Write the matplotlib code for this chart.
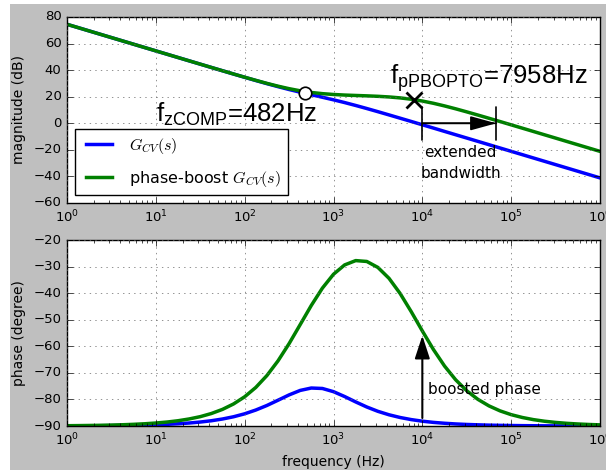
import matplotlib
matplotlib.use('Agg')
import matplotlib.pyplot as plt
from matplotlib.patches import Rectangle

plt.style.use('classic')
matplotlib.rc('xtick', labelsize=9.5)
matplotlib.rc('ytick', labelsize=9.5)
plt.rcParams['mathtext.fontset'] = 'cm'
plt.rcParams['mathtext.rm'] = 'Liberation Sans'

# frequency points (Hz), 1/8 decade apart
freq = [1, 1.334, 1.778, 2.371, 3.162, 4.217, 5.623, 7.499,
        10, 13.34, 17.78, 23.71, 31.62, 42.17, 56.23, 74.99,
        100, 133.4, 177.8, 237.1, 316.2, 421.7, 562.3, 749.9,
        1000, 1334, 1778, 2371, 3162, 4217, 5623, 7499,
        10000, 13340, 17780, 23710, 31620, 42170, 56230, 74990,
        100000, 133400, 177800, 237100, 316200, 421700, 562300, 749900,
        1000000]

# magnitude (dB)
mag_cv = [74.5, 72.0, 69.5, 67.0, 64.5, 62.0, 59.5, 57.0,
          54.5, 52.0, 49.5, 47.0, 44.51, 42.02, 39.54, 37.07,
          34.62, 32.20, 29.84, 27.58, 25.42, 23.40, 21.49, 19.60,
          17.66, 15.60, 13.41, 11.11, 8.73, 6.30, 3.84, 1.37,
          -1.12, -3.60, -6.11, -8.61, -11.10, -13.60, -16.10, -18.60,
          -21.10, -23.60, -26.10, -28.60, -31.10, -33.60, -36.10, -38.60,
          -41.10]
mag_pb = [74.5, 72.0, 69.5, 67.0, 64.5, 62.0, 59.5, 57.0,
          54.5, 52.0, 49.51, 47.01, 44.52, 42.03, 39.56, 37.10,
          34.68, 32.32, 30.05, 27.94, 26.05, 24.46, 23.21, 22.30,
          21.68, 21.25, 20.94, 20.65, 20.30, 19.82, 19.11, 18.10,
          16.74, 15.05, 13.07, 10.90, 8.59, 6.21, 3.77, 1.31,
          -1.17, -3.66, -6.15, -8.65, -11.14, -13.65, -16.14, -18.64,
          -21.14]

# phase (degree)
ph_cv = [-89.95, -89.94, -89.92, -89.89, -89.85, -89.80, -89.73, -89.65,
         -89.53, -89.37, -89.16, -88.88, -88.51, -88.02, -87.37, -86.52,
         -85.41, -83.99, -82.28, -80.31, -78.30, -76.61, -75.71, -75.88,
         -77.08, -78.91, -80.94, -82.85, -84.48, -85.78, -86.80, -87.59,
         -88.19, -88.64, -88.97, -89.23, -89.42, -89.56, -89.68, -89.76,
         -89.82, -89.87, -89.90, -89.93, -89.95, -89.96, -89.97, -89.98,
         -89.98]
ph_pb = [-89.89, -89.85, -89.80, -89.74, -89.65, -89.53, -89.37, -89.16,
         -88.88, -88.51, -88.02, -87.35, -86.48, -85.30, -83.75, -81.70,
         -79.00, -75.49, -71.03, -65.51, -59.01, -51.84, -44.64, -38.11,
         -32.89, -29.38, -27.75, -28.08, -30.33, -34.43, -40.13, -46.97,
         -54.23, -61.23, -67.43, -72.60, -76.74, -79.96, -82.43, -84.31,
         -85.73, -86.79, -87.60, -88.20, -88.65, -88.99, -89.24, -89.43,
         -89.57]

f_zcomp = 482
mag_zcomp = 22.5
f_pbopto = 7958
mag_pbopto = 17.5
bw_start = 1e4
bw_end = 6.8e4
boost_f = 1e4
boost_from = -87
boost_to = -56

fig = plt.figure(figsize=(6.06, 4.70), dpi=100, facecolor='white')
fig.patches.append(Rectangle((10/606., 0), 1, 1 - 4/470., transform=fig.transFigure,
                             facecolor='#bfbfbf', edgecolor='none', zorder=-10))

ax1 = fig.add_axes([67/606., 1 - 203/470., 533/606., 186/470.])
ax2 = fig.add_axes([67/606., 1 - 426/470., 533/606., 186/470.])

# magnitude
ax1.semilogx(freq, mag_cv, 'b', lw=2.5, label=r'$G_{CV}(s)$')
ax1.semilogx(freq, mag_pb, 'g', lw=2.5, label=r'phase-boost $G_{CV}(s)$')
ax1.plot(f_zcomp, mag_zcomp, 'o', ms=9, mfc='white', mec='k', mew=1.2, zorder=5)
ax1.plot(f_pbopto, mag_pbopto, 'x', ms=12, mew=2, color='k', zorder=5)
ax1.text(10, 1, r'f$_{\mathrm{zCOMP}}$=482Hz', fontsize=18.5,
         family='Liberation Sans', math_fontfamily='custom')
ax1.text(4300, 30, r'f$_{\mathrm{pPBOPTO}}$=7958Hz', fontsize=18.5,
         family='Liberation Sans', math_fontfamily='custom')
ax1.annotate('', xy=(bw_end, 0), xytext=(bw_start, 0),
             arrowprops=dict(arrowstyle='-|>,head_length=0.8,head_width=0.22',
                             mutation_scale=20, color='k', lw=1.2,
                             shrinkA=0, shrinkB=0))
ax1.annotate('', xy=(bw_end, 0), xytext=(bw_start, 0),
             arrowprops=dict(arrowstyle='|-|,widthA=0.6,widthB=0.6',
                             mutation_scale=20, color='k', lw=1.2,
                             shrinkA=0, shrinkB=0))
ax1.text(26900, -16.5, 'extended\nbandwidth', fontsize=11, ha='center', va='top',
         multialignment='center', linespacing=1.45)
ax1.set_xlim(1, 1e6)
ax1.set_ylim(-60, 80)
ax1.set_yticks(range(-60, 81, 20))
ax1.grid(True, color='0.4', linestyle=':')
ax1.set_ylabel('magnitude (dB)', fontsize=10)
ax1.legend(loc='lower left', fontsize=11.5, handlelength=2.2, labelspacing=0.8)

# phase
ax2.semilogx(freq, ph_cv, 'b', lw=2.5)
ax2.semilogx(freq, ph_pb, 'g', lw=2.5)
ax2.annotate('', xy=(boost_f, boost_to), xytext=(boost_f, boost_from),
             arrowprops=dict(arrowstyle='-|>,head_length=0.7,head_width=0.23',
                             mutation_scale=20, color='k', lw=1.5,
                             shrinkA=0, shrinkB=0))
ax2.text(11500, -78, 'boosted phase', fontsize=11)
ax2.set_xlim(1, 1e6)
ax2.set_ylim(-90, -20)
ax2.set_yticks(range(-90, -19, 10))
ax2.grid(True, color='0.4', linestyle=':')
ax2.set_ylabel('phase (degree)', fontsize=10)
ax2.set_xlabel('frequency (Hz)', fontsize=10)

fig.savefig('out.png', dpi=100, facecolor=fig.get_facecolor())
